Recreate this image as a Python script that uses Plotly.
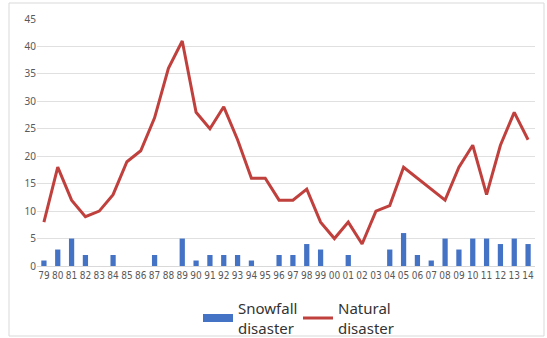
import plotly.graph_objects as go

years = ["79","80","81","82","83","84","85","86","87","88","89","90","91","92","93","94","95","96","97","98","99","00","01","02","03","04","05","06","07","08","09","10","11","12","13","14"]
snowfall = [1,3,5,2,0,2,0,0,2,0,5,1,2,2,2,1,0,2,2,4,3,0,2,0,0,3,6,2,1,5,3,5,5,4,5,4]
natural = [8,18,12,9,10,13,19,21,27,36,41,28,25,29,23,16,16,12,12,14,8,5,8,4,10,11,18,16,14,12,18,22,13,22,28,23]
y_ticks = [0,5,10,15,20,25,30,35,40,45]

fig = go.Figure()
fig.add_trace(go.Bar(x=years, y=snowfall, name="Snowfall<br>disaster", showlegend=False,
                     marker=dict(color="#4472C4", line=dict(width=0))))
fig.add_trace(go.Scatter(x=[None], y=[None], name="Snowfall<br>disaster", mode="lines",
                         line=dict(color="#4472C4", width=8)))
fig.add_trace(go.Scatter(x=years, y=natural, name="Natural<br>disaster", mode="lines",
                         line=dict(color="#C0403D", width=3)))

W, H = 547, 338
l, r, t, b = 37, W - 535, 19, H - 266
pw, ph = W - l - r, H - t - b

fig.update_layout(
    width=W, height=H,
    margin=dict(l=l, r=r, t=t, b=b, autoexpand=False),
    paper_bgcolor="white", plot_bgcolor="white",
    font=dict(family="Noto Sans, DejaVu Sans, sans-serif", color="#595959"),
    bargap=0.62,
    showlegend=True,
    legend=dict(orientation="h", x=(198 - l) / pw, xanchor="left", y=(266 - 292) / ph, yanchor="top",
                font=dict(size=15, color="#333333"), traceorder="normal",
                entrywidth=55, entrywidthmode="pixels",
                itemwidth=30, tracegroupgap=0, bgcolor="rgba(0,0,0,0)"),
    xaxis=dict(type="category", tickfont=dict(size=10, family="DejaVu Sans Condensed, Liberation Sans Narrow, sans-serif", color="#595959"),
               showgrid=False, showline=True, linecolor="#D9D9D9", linewidth=1, ticks="", ticklen=0,
               tickangle=0, automargin=False),
    yaxis=dict(range=[0, 45], tickvals=y_ticks, showgrid=True, gridcolor="#E0E0E0", gridwidth=1,
               zeroline=False, tickfont=dict(size=10, color="#595959"), ticks="",
               showline=False, automargin=False),
    shapes=[dict(type="rect", xref="paper", yref="paper",
                 x0=(9 - l) / pw, x1=(544 - l) / pw,
                 y0=(266 - 336) / ph, y1=(266 - 3) / ph,
                 line=dict(color="#D9D9D9", width=1), fillcolor="rgba(0,0,0,0)", layer="below")],
)

fig.write_html("out.html", config={"displayModeBar": False},
               post_script="document.body.style.margin='0';document.body.style.overflow='hidden';")
